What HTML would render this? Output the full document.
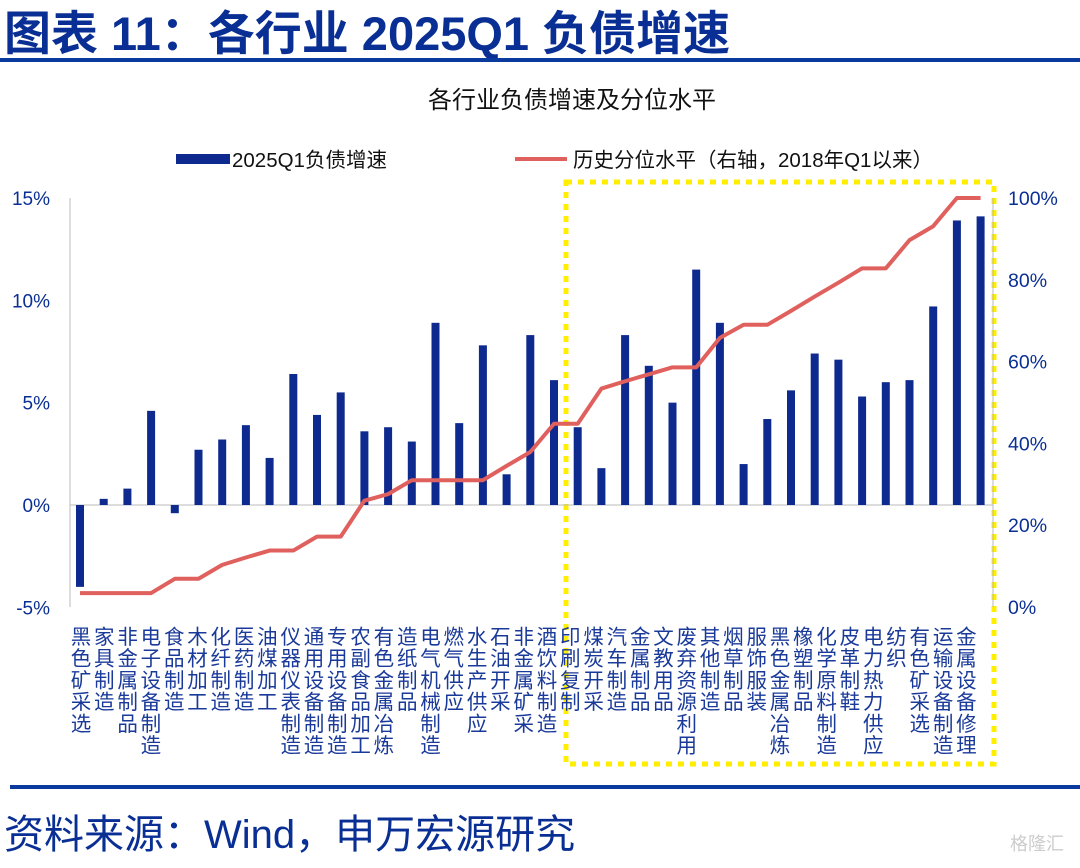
<!DOCTYPE html>
<html><head><meta charset="utf-8"><style>
body{margin:0;background:#fff;}
svg text{font-family:"Liberation Sans","Noto Sans CJK SC",sans-serif;}
</style></head><body>
<svg width="1080" height="863" viewBox="0 0 1080 863" xmlns="http://www.w3.org/2000/svg">
<text x="4" y="50" font-size="47" font-weight="bold" fill="#0a2f94">图表 11：各行业 2025Q1 负债增速</text>
<rect x="0" y="58" width="1080" height="4" fill="#0a3a9e"/>
<text x="572" y="108" font-size="24" fill="#111" text-anchor="middle">各行业负债增速及分位水平</text>
<g>
<rect x="176" y="154" width="54" height="10" fill="#0e2a8f"/>
<text x="232" y="167" font-size="20.5" fill="#111">2025Q1负债增速</text>
<line x1="515" y1="159" x2="567" y2="159" stroke="#e0605e" stroke-width="4"/>
<text x="573" y="167" font-size="20.5" fill="#111">历史分位水平（右轴，2018年Q1以来）</text>
</g>
<rect x="566" y="182" width="428" height="582" fill="none" stroke="#ffee00" stroke-width="5" stroke-dasharray="6,6"/>
<g id="axes"></g><g id="bars"></g><g id="line"></g><g id="labels"></g>
<rect x="10" y="785" width="1070" height="4" fill="#0a3a9e"/>
<text x="4" y="848" font-size="40" fill="#0a2f94">资料来源：Wind，申万宏源研究</text>
<text x="1010" y="850" font-size="18" fill="#ccc">格隆汇</text>
</svg>
<script>
const categories=["黑色矿采选","家具制造","非金属制品","电子设备制造","食品制造","木材加工","化纤制造","医药制造","油煤加工","仪器仪表制造","通用设备制造","专用设备制造","农副食品加工","有色金属冶炼","造纸制品","电气机械制造","燃气供应","水生产供应","石油开采","非金属矿采","酒饮料制造","印刷复制","煤炭开采","汽车制造","金属制品","文教用品","废弃资源利用","其他制造","烟草制品","服饰服装","黑色金属冶炼","橡塑制品","化学原料制造","皮革制鞋","电力热力供应","纺织","有色矿采选","运输设备制造","金属设备修理"];
const growth=[-4.0,0.3,0.8,4.6,-0.4,2.7,3.2,3.9,2.3,6.4,4.4,5.5,3.6,3.8,3.1,8.9,4.0,7.8,1.5,8.3,6.1,3.8,1.8,8.3,6.8,5.0,11.5,8.9,2.0,4.2,5.6,7.4,7.1,5.3,6.0,6.1,9.7,13.9,14.1];
const percentile=[3.4,3.4,3.4,3.4,6.9,6.9,10.3,12.1,13.8,13.8,17.2,17.2,26.0,27.6,31.0,31.0,31.0,31.0,34.5,37.9,44.8,44.8,53.4,55.2,56.9,58.6,58.6,65.8,69.0,69.0,72.4,75.9,79.3,82.8,82.8,89.7,93.1,100,100];
const leftTicks=[15,10,5,0,-5];
const rightTicks=[100,80,60,40,20,0];
const NS="http://www.w3.org/2000/svg";
const yL=v=>505-v*20.47, yR=v=>607-v*4.09;
const xB=i=>80+i*23.7, xT=i=>81+i*23.3;
function mk(tag,attrs,parent,txt){const e=document.createElementNS(NS,tag);for(const k in attrs)e.setAttribute(k,attrs[k]);if(txt!==undefined)e.textContent=txt;document.getElementById(parent).appendChild(e);return e;}
let e;
e=mk('line',{x1:70,y1:198,x2:70,y2:607,stroke:'#bbb'},'axes');


e=mk('line',{x1:993,y1:198,x2:993,y2:607,stroke:'#bbb'},'axes');


e=mk('line',{x1:70,y1:yL(0),x2:993,y2:yL(0),stroke:'#bbb'},'axes');


leftTicks.forEach(v=>{
 e=mk('text',{x:50,y:yL(v)+7,'font-size':19,'text-anchor':'end',fill:'#0a2f94'},'axes',v+'%');
 
 
});
rightTicks.forEach(v=>{
 e=mk('text',{x:1008,y:yR(v)+7,'font-size':19.5,fill:'#0a2f94'},'axes',v+'%');
 
 
});
growth.forEach((v,i)=>{
 const y0=yL(0),y1=yL(v);
 e=mk('rect',{x:xB(i)-4,y:Math.min(y0,y1),width:8,height:Math.abs(y1-y0),fill:'#0e2a8f'},'bars');
 
 
});
e=mk('polyline',{points:percentile.map((v,i)=>xB(i)+','+yR(v)).join(' '),fill:'none',stroke:'#e0605e','stroke-width':4,'stroke-linejoin':'round'},'line');


categories.forEach((c,i)=>{
 const t=mk('text',{'font-size':20.5,fill:'#1a3a9a','text-anchor':'middle'},'labels');
 
 
 [...c].forEach((ch,k)=>{const s=document.createElementNS(NS,'tspan');s.setAttribute('x',xT(i));s.setAttribute('y',644+k*21.7);s.textContent=ch;t.appendChild(s);});
});
</script>
</body></html>
